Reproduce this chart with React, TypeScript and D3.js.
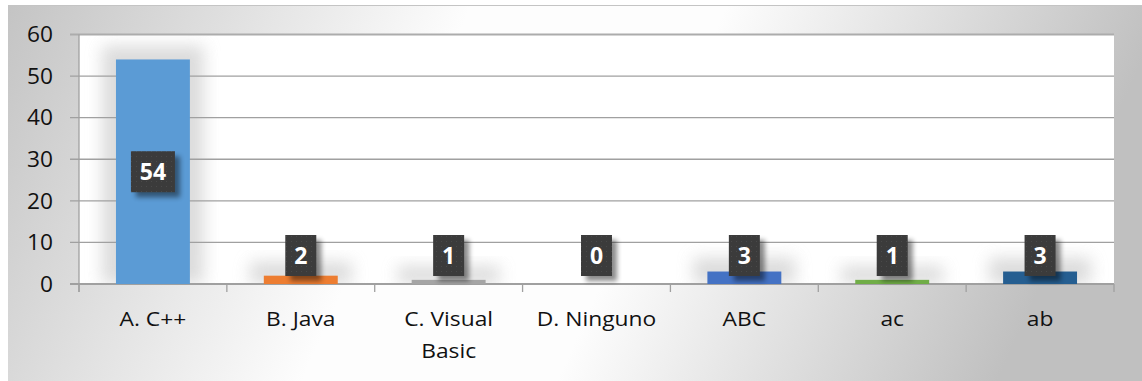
import React from "react";
import * as d3 from "d3";

const categories = ["A. C++", "B. Java", "C. Visual Basic", "D. Ninguno", "ABC", "ac", "ab"];
const values = [54, 2, 1, 0, 3, 1, 3];
const colors = ["#5b9bd5", "#ed7d31", "#a5a5a5", "#ffc000", "#4472c4", "#70ad47", "#255e91"];
const yTicks = [0, 10, 20, 30, 40, 50, 60];

const W = 1142;
const H = 381;
const plot = { left: 79, right: 1114, top: 34.5, bottom: 284 };
const FONT = "'Open Sans', 'Liberation Sans', sans-serif";

export default function App() {
  const x = d3.scaleBand<string>().domain(categories).range([plot.left, plot.right]).paddingInner(0).paddingOuter(0);
  const y = d3.scaleLinear().domain([0, 60]).range([plot.bottom, plot.top]);
  const bw = x.bandwidth() * 0.5;
  const boundaries = d3.range(categories.length + 1).map((i) => plot.left + i * x.step());

  return (
    <svg width={W} height={H} style={{ position: "absolute", left: 0, top: 0, display: "block" }}>
      <defs>
        <linearGradient id="bg" x1="0" y1="0" x2="1" y2="0.15">
          <stop offset="0" stopColor="#c4c4c4" />
          <stop offset="0.4" stopColor="#fdfdfd" />
          <stop offset="0.62" stopColor="#fdfdfd" />
          <stop offset="1" stopColor="#c0c0c0" />
        </linearGradient>
        <filter id="glow" x="-50%" y="-50%" width="200%" height="200%">
          <feGaussianBlur stdDeviation="8" />
        </filter>
        <filter id="lblShadow" x="-50%" y="-50%" width="200%" height="200%">
          <feGaussianBlur stdDeviation="2.5" />
        </filter>
        <pattern id="dots" width="5" height="5" patternUnits="userSpaceOnUse">
          <rect width="5" height="5" fill="#3b3b3b" />
          <rect x="1" y="1" width="1" height="1" fill="#4a4a4a" />
        </pattern>
        <clipPath id="plotClip">
          <rect x={plot.left} y={plot.top} width={plot.right - plot.left} height={plot.bottom - plot.top} />
        </clipPath>
      </defs>
      <rect x={8} y={5} width={W - 8} height={H - 5} fill="url(#bg)" />
      <line x1={8} x2={W} y1={5.5} y2={5.5} stroke="#c4c4c4" strokeWidth={1} />
      <rect x={plot.left} y={plot.top} width={plot.right - plot.left} height={plot.bottom - plot.top} fill="#ffffff" />

      {/* soft glow behind bars */}
      <g clipPath="url(#plotClip)">
        {values.map((v, i) =>
          v > 0 ? (
            <rect
              key={"g" + i}
              x={x(categories[i])! + x.bandwidth() / 2 - bw / 2 - 14}
              y={y(v) - 14}
              width={bw + 28}
              height={plot.bottom - y(v) + 14}
              fill="#d0d0d0"
              opacity={0.75}
              filter="url(#glow)"
            />
          ) : null
        )}
      </g>

      {/* gridlines */}
      {yTicks.map((t) => (
        <line
          key={"grid" + t}
          x1={plot.left - 9}
          x2={plot.right}
          y1={y(t)}
          y2={y(t)}
          stroke={t === 60 ? "#acacac" : "#a0a0a0"}
          strokeWidth={t === 60 || t === 0 ? 2 : 1.3}
        />
      ))}
      <line x1={plot.left} x2={plot.left} y1={plot.top} y2={plot.bottom + 8} stroke="#a0a0a0" strokeWidth={1.3} />
      {boundaries.map((bx, i) => (
        <line key={"tk" + i} x1={bx} x2={bx} y1={plot.bottom} y2={plot.bottom + 8} stroke="#a0a0a0" strokeWidth={1.3} />
      ))}

      {/* bars */}
      {values.map((v, i) => (
        <rect
          key={"b" + i}
          x={x(categories[i])! + x.bandwidth() / 2 - bw / 2}
          y={y(v)}
          width={bw}
          height={plot.bottom - y(v)}
          fill={colors[i]}
        />
      ))}

      {/* y labels */}
      {yTicks.map((t) => (
        <text
          key={"yl" + t}
          transform={`translate(53,${y(t)}) scale(1.08,1)`}
          dy="0.37em"
          textAnchor="end"
          fontFamily={FONT}
          fontSize={21}
          fill="#111"
        >
          {t}
        </text>
      ))}

      {/* x labels */}
      {categories.map((c, i) => {
        const cx = x(c)! + x.bandwidth() / 2;
        const lines = c === "C. Visual Basic" ? ["C. Visual", "Basic"] : [c];
        return (
          <text
            key={"xl" + i}
            transform={`translate(${cx},0) scale(1.14,1)`}
            textAnchor="middle"
            fontFamily={FONT}
            fontSize={20}
            fill="#111"
          >
            {lines.map((l, j) => (
              <tspan key={j} x={0} y={326 + j * 32}>
                {l}
              </tspan>
            ))}
          </text>
        );
      })}

      {/* data labels */}
      {values.map((v, i) => {
        const cx = x(categories[i])! + x.bandwidth() / 2;
        const label = String(v);
        const w = label.length > 1 ? 44 : 31;
        const h = 41;
        const barCenter = (y(v) + plot.bottom) / 2;
        const cy = Math.min(barCenter, plot.bottom - 28.5);
        return (
          <g key={"dl" + i}>
            <rect x={cx - w / 2 + 5} y={cy - h / 2 + 5} width={w} height={h} fill="#000" opacity={0.45} filter="url(#lblShadow)" />
            <rect x={cx - w / 2} y={cy - h / 2} width={w} height={h} fill="url(#dots)" />
            <text x={cx} y={cy} dy="0.37em" textAnchor="middle" fontFamily={FONT} fontWeight="bold" fontSize={23} fill="#ffffff">
              {label}
            </text>
          </g>
        );
      })}
    </svg>
  );
}
